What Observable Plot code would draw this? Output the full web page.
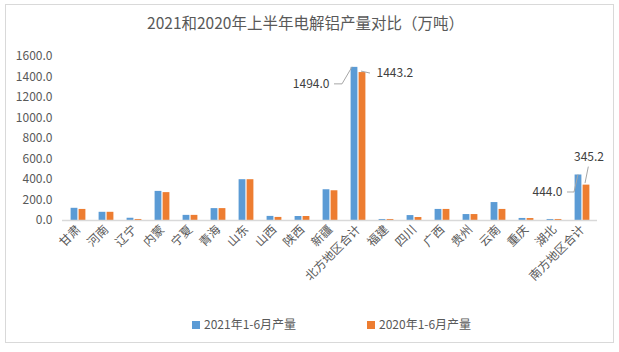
<!DOCTYPE html>
<html><head><meta charset="utf-8">
<script src="https://cdn.jsdelivr.net/npm/d3@7"></script>
<script src="https://cdn.jsdelivr.net/npm/@observablehq/plot@0.6"></script>
<style>
html,body{margin:0;padding:0;background:#fff;}
#wrap{position:relative;width:619px;height:352px;overflow:hidden;font-family:"Noto Sans CJK SC","Liberation Sans",sans-serif;color:#595959;}
#wrap svg{position:absolute;left:0;top:0;}
#frame{position:absolute;left:5px;top:4px;width:609px;height:339px;border:1px solid #d9d9d9;box-sizing:border-box;pointer-events:none;}
#title{position:absolute;left:0;top:13px;width:611px;text-align:center;font-size:15.5px;line-height:18px;color:#595959;}
.leg{position:absolute;top:316px;font-size:12px;line-height:16px;color:#595959;white-space:nowrap;}
.leg i{display:inline-block;width:8px;height:8px;margin-right:4px;vertical-align:0px;}
</style>
</head><body>
<div id="wrap">
  <div id="chart"></div>
  <div id="frame"></div>
  <div id="title">2021和2020年上半年电解铝产量对比（万吨）</div>
  <div class="leg" id="leg1" style="left:192px"><i style="background:#5b9bd5"></i>2021年1-6月产量</div>
  <div class="leg" id="leg2" style="left:367px"><i style="background:#ed7d31"></i>2020年1-6月产量</div>
</div>
<script>
// ---- data ----
const regions = ["甘肃","河南","辽宁","内蒙","宁夏","青海","山东","山西","陕西","新疆","北方地区合计","福建","四川","广西","贵州","云南","重庆","湖北","南方地区合计"];
const series = ["2021年1-6月产量","2020年1-6月产量"];
const v2021 = [119, 80, 22, 284, 50, 116, 398, 40, 39, 300, 1494.0, 10, 48, 108, 58, 175, 20, 10, 444.0];
const v2020 = [108, 80, 10, 272, 50, 116, 398, 30, 39, 290, 1443.2, 10, 29, 108, 58, 108, 19, 10, 345.2];
const yTicks = [0, 200, 400, 600, 800, 1000, 1200, 1400, 1600];
const labeled = ["北方地区合计", "南方地区合计"];

const colors = ["#5b9bd5", "#ed7d31"];
const d21 = regions.map((r, i) => ({region: r, value: v2021[i]}));
const d20 = regions.map((r, i) => ({region: r, value: v2020[i]}));

// data labels (positions as style offsets relative to bar tops)
const lab = [
  {region: labeled[0], value: v2021[regions.indexOf(labeled[0])], dx: -29, dy: 17, anchor: "end", pts: [[-24,17],[-16,17],[-6,0]]},
  {region: labeled[0], value: v2020[regions.indexOf(labeled[0])], dx: 18, dy: 1, anchor: "start", pts: [[3,-1],[12,1]]},
  {region: labeled[1], value: v2021[regions.indexOf(labeled[1])], dx: -20, dy: 17.5, anchor: "end", pts: [[-15,17.5],[-8,17.5],[-4,0]]},
  {region: labeled[1], value: v2020[regions.indexOf(labeled[1])], dx: 6.5, dy: -28, anchor: "middle", pts: [[3,-1.5],[6.3,-18]]}
];

const leaderMark = (index, scales) => {
  const x = scales.x, y = scales.y;
  const bw = x.bandwidth ? x.bandwidth() : 28;
  const g = d3.create("svg:g").attr("fill", "none").attr("stroke", "#a6a6a6").attr("stroke-width", 1);
  for (const L of lab) {
    const c = x(L.region) + bw / 2, yt = y(L.value);
    g.append("polyline").attr("points", L.pts.map(([dx, dy]) => (c + dx) + "," + (yt + dy)).join(" "));
  }
  return g.node();
};

const plot = Plot.plot({
  width: 619,
  height: 352,
  marginLeft: 62,
  marginRight: 22,
  marginTop: 56,
  marginBottom: 132,
  style: {background: "transparent", fontSize: "12px", color: "#595959", fontFamily: "'Noto Sans CJK SC','Liberation Sans',sans-serif"},
  x: {domain: regions, padding: 0, tickSize: 0, tickPadding: 7, tickRotate: -45, label: null},
  y: {domain: [0, 1600], ticks: yTicks, tickFormat: d3.format(".1f"), tickSize: 0, tickPadding: 10, label: null},
  marks: [
    Plot.barY(d21, {x: "region", y: "value", fill: colors[0], insetLeft: 6.6, insetRight: 14.6}),
    Plot.barY(d20, {x: "region", y: "value", fill: colors[1], insetLeft: 14.6, insetRight: 6.6}),
    Plot.ruleY([0], {stroke: "#d9d9d9", strokeWidth: 1.5}),
    leaderMark,
    ...lab.map(L => Plot.text([L], {x: "region", y: "value", text: d => d3.format(".1f")(d.value), dx: L.dx, dy: L.dy, textAnchor: L.anchor, fill: "#404040", fontSize: 12}))
  ]
});
document.getElementById("chart").appendChild(plot);
</script>
</body></html>
